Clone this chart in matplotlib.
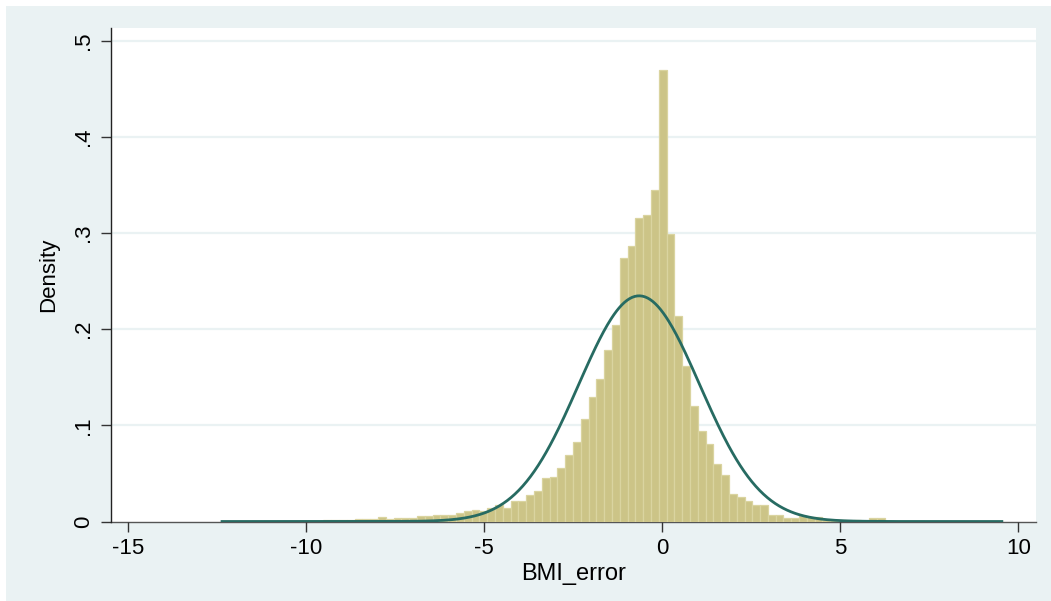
import numpy as np
import matplotlib
matplotlib.use("Agg")
import matplotlib.pyplot as plt
from matplotlib.patches import Rectangle

# ---- data ----
bin_start = -12.37        # data minimum (left edge of first bin)
bin_width = 0.2191        # width of each of the 100 bins
densities = [
    0.0005, 0.0003, 0.0003, 0.0003, 0.0003, 0.0006, 0.0006, 0.0006, 0.0003, 0.0002,
    0.0005, 0.0006, 0.0008, 0.0020, 0.0015, 0.0012, 0.0020, 0.0022, 0.0028, 0.0030,
    0.0050, 0.0022, 0.0038, 0.0040, 0.0040, 0.0052, 0.0055, 0.0065, 0.0070, 0.0063,
    0.0086, 0.0104, 0.0115, 0.0110, 0.0142, 0.0175, 0.0140, 0.0218, 0.0212, 0.0275,
    0.0316, 0.0450, 0.0466, 0.0552, 0.0696, 0.0826, 0.1065, 0.1295, 0.1483, 0.1780,
    0.2040, 0.2740, 0.2860, 0.3160, 0.3190, 0.3450, 0.4700, 0.2990, 0.2140, 0.1616,
    0.1200, 0.0940, 0.0810, 0.0600, 0.0480, 0.0288, 0.0255, 0.0208, 0.0167, 0.0170,
    0.0063, 0.0068, 0.0035, 0.0035, 0.0055, 0.0045, 0.0045, 0.0020, 0.0013, 0.0013,
    0.0010, 0.0020, 0.0008, 0.0038, 0.0038, 0.0008, 0.0010, 0.0010, 0.0004, 0.0004,
    0.0003, 0.0004, 0.0003, 0.0004, 0.0003, 0.0003, 0.0004, 0.0003, 0.0003, 0.0004,
]
normal_mean = -0.65
normal_sd = 1.70

x_ticks = [-15, -10, -5, 0, 5, 10]
x_tick_labels = ["-15", "-10", "-5", "0", "5", "10"]
y_ticks = [0, 0.1, 0.2, 0.3, 0.4, 0.5]
y_tick_labels = ["0", ".1", ".2", ".3", ".4", ".5"]
x_label = "BMI_error"
y_label = "Density"

# ---- styling ----
plt.rcParams['font.family'] = ['Liberation Sans', 'DejaVu Sans']
BG = '#EAF2F3'
BAR_FACE = '#CCC487'
BAR_EDGE = '#DAD4A0'
LINE = '#276B62'

fig = plt.figure(figsize=(10.51, 6.01), dpi=100)
fig.patch.set_facecolor('white')
fig.patches.append(Rectangle((6 / 1051, 0), 1, 1 - 6 / 601, transform=fig.transFigure,
                             facecolor=BG, edgecolor='none', zorder=-10))

ax = fig.add_axes([111 / 1051, 1 - 521.5 / 601, (1036 - 111) / 1051, (521.5 - 27.7) / 601])
ax.set_facecolor('white')

n = len(densities)
edges = bin_start + bin_width * np.arange(n + 1)
ax.bar(edges[:-1], densities, width=bin_width, align='edge',
       color=BAR_FACE, edgecolor=BAR_EDGE, linewidth=0.9, zorder=2)

xs = np.linspace(edges[0], edges[-1], 600)
ys = np.exp(-0.5 * ((xs - normal_mean) / normal_sd) ** 2) / (normal_sd * np.sqrt(2 * np.pi))
ax.plot(xs, ys, color=LINE, linewidth=2.0, zorder=3)

ax.set_xlim(-15.49, 10.5)
ax.set_ylim(0, 0.5135)

ax.set_xticks(x_ticks)
ax.set_xticklabels(x_tick_labels)
ax.set_yticks(y_ticks)
ax.set_yticklabels(y_tick_labels, rotation=90, va='center')

for yv in y_ticks[1:]:
    ax.axhline(yv, color=BG, linewidth=1.6, zorder=1)

for s in ['top', 'right']:
    ax.spines[s].set_visible(False)
ax.spines['left'].set_color('#222222')
ax.spines['left'].set_linewidth(1.0)
ax.spines['bottom'].set_color('#555555')
ax.spines['bottom'].set_linewidth(1.0)
ax.spines['left'].set_zorder(4)
ax.spines['bottom'].set_zorder(1)

ax.tick_params(axis='both', direction='out', length=7, width=1.0,
               color='#333333', labelsize=16, labelcolor='black', pad=5)

ax.set_xlabel(x_label, fontsize=17, labelpad=3)
ax.set_ylabel(y_label, fontsize=16, labelpad=10)

fig.savefig('out.png', dpi=100, facecolor=fig.get_facecolor())
